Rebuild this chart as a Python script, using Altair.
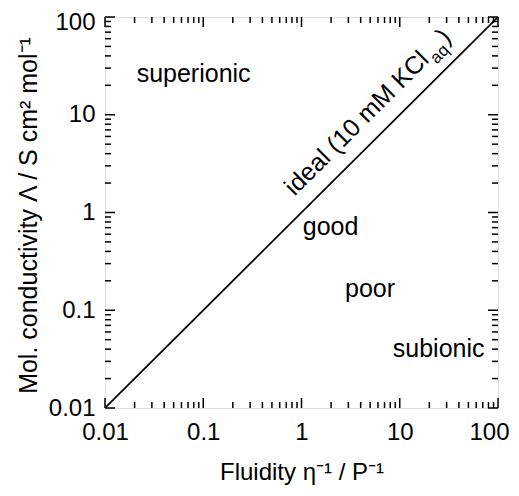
import altair as alt
import pandas as pd

# axis definitions
x_domain = [0.01, 100]
y_domain = [0.01, 100]
major_ticks = [0.01, 0.1, 1, 10, 100]
minor_ticks = [round(m * 10.0 ** k, 6) for k in range(-2, 2) for m in range(2, 10)]

# ideal Walden line (10 mM KCl aq)
ideal_x = [0.01, 100]
ideal_y = [0.01, 100]

# region labels
label_text = ["superionic", "good", "poor", "subionic"]
label_x = [0.021, 1.03, 2.77, 8.5]
label_y = [21.6, 0.59, 0.137, 0.033]

# ideal line label anchor
ideal_label_x = [0.85]
ideal_label_y = [1.45]

W, H = 393, 391
FONT = "Liberation Sans"
MAJ, MIN = 10, 6

xs = alt.Scale(type="log", domain=x_domain, nice=False)
ys = alt.Scale(type="log", domain=y_domain, nice=False)

line_df = pd.DataFrame({"x": ideal_x, "y": ideal_y})
lab_df = pd.DataFrame({"t": label_text, "x": label_x, "y": label_y})
ideal_df = pd.DataFrame({"x": ideal_label_x, "y": ideal_label_y})
maj_df = pd.DataFrame({"v": major_ticks})
min_df = pd.DataFrame({"v": minor_ticks})

x_axis = alt.Axis(values=major_ticks, format="~g", ticks=False, domain=False, grid=False,
                  labelFontSize=24, labelFont=FONT, labelColor="black", labelFlush=False,
                  labelOffset={"condition": {"test": "datum.value >= 100", "value": -9}, "value": 0},
                  labelPadding=12, title="Fluidity η⁻¹ / P⁻¹", titleFont=FONT,
                  titleFontSize=24, titleFontWeight="normal", titleColor="black",
                  titlePadding=16)
y_axis = alt.Axis(values=major_ticks, format="~g", ticks=False, domain=False, grid=False,
                  labelFontSize=24, labelFont=FONT, labelColor="black", labelFlush=False,
                  labelOffset={"condition": {"test": "datum.value >= 100", "value": 5}, "value": 0},
                  labelPadding=10, title="Mol. conductivity Λ / S cm² mol⁻¹", titleFont=FONT,
                  titleFontSize=25, titleFontWeight="normal", titleColor="black",
                  titlePadding=7, titleY=198)

X = lambda f: alt.X(f, scale=xs, axis=x_axis)
Y = lambda f: alt.Y(f, scale=ys, axis=y_axis)

line = alt.Chart(line_df).mark_line(color="black", strokeWidth=1.7, clip=True).encode(
    x=X("x:Q"), y=Y("y:Q"))

def ticks(df, length, width):
    layers = []
    b = alt.Chart(df).mark_rule(color="black", strokeWidth=width)
    layers.append(b.encode(x=X("v:Q"), y=alt.value(H), y2=alt.value(H - length)))
    layers.append(b.encode(x=X("v:Q"), y=alt.value(0), y2=alt.value(length)))
    layers.append(b.encode(y=Y("v:Q"), x=alt.value(0), x2=alt.value(length)))
    layers.append(b.encode(y=Y("v:Q"), x=alt.value(W), x2=alt.value(W - length)))
    return layers

labels = alt.Chart(lab_df).mark_text(font=FONT, fontSize=25, align="left", baseline="alphabetic",
                                     color="black").encode(
    x=X("x:Q"), y=Y("y:Q"), text="t:N")

ib = alt.Chart(ideal_df)
ideal_main = ib.mark_text(font=FONT, fontSize=25, align="left", baseline="alphabetic",
                          angle=315, color="black").encode(
    x=X("x:Q"), y=Y("y:Q"), text=alt.value("ideal (10 mM KCl"))
ideal_sub = ib.mark_text(font=FONT, fontSize=17, align="left", baseline="alphabetic",
                         angle=315, dx=194, dy=7, color="black").encode(
    x=X("x:Q"), y=Y("y:Q"), text=alt.value("aq"))
ideal_par = ib.mark_text(font=FONT, fontSize=25, align="left", baseline="alphabetic",
                         angle=315, dx=215, dy=0, color="black").encode(
    x=X("x:Q"), y=Y("y:Q"), text=alt.value(")"))

chart = alt.layer(
    line, *ticks(maj_df, MAJ, 1.5), *ticks(min_df, MIN, 1.5), labels, ideal_main, ideal_sub, ideal_par
).properties(
    width=W, height=H,
    autosize=alt.AutoSizeParams(type="none"),
    padding={"left": 97, "top": 9, "right": 13, "bottom": 80},
).configure_view(stroke="black", strokeWidth=2).configure(background="white")

chart.save("out.html", embed_options={"renderer": "svg", "actions": False})
